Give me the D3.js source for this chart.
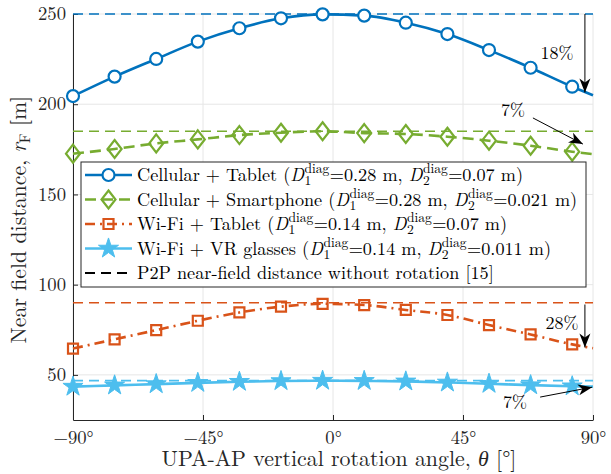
<!DOCTYPE html>
<html>
<head>
<meta charset="utf-8">
<script src="https://cdn.jsdelivr.net/npm/d3@7"></script>
<style>
  body { margin: 0; background: #fff; }
  text { white-space: pre; }
</style>
</head>
<body>
<svg id="svg" width="611" height="474"></svg>
<script>
const WIDTH = 611;
const HEIGHT = 474;
const MARGIN = { left: 73, right: 18, top: 14, bottom: 54 };
const FONT = "'LM Roman 10', 'Latin Modern Roman', 'Liberation Serif', serif";

// Data
const angles = [-90, -75.6, -61.2, -46.8, -32.4, -18, -3.6, 10.8, 25.2, 39.6, 54, 68.4, 82.8, 90];
const cellularTablet = [204.5, 215.3, 225.1, 234.7, 242.1, 247.6, 249.8, 249.1, 245.2, 238.9, 230.0, 220.2, 209.7, 205.0];
const cellularPhone = [172.6, 175.2, 178.3, 180.5, 182.9, 184.2, 185.0, 184.0, 183.5, 182.0, 179.8, 177.0, 173.7, 172.3];
const wifiTablet = [64.6, 69.7, 74.8, 80.0, 84.6, 87.8, 89.4, 88.7, 86.0, 83.2, 77.6, 72.4, 66.9, 64.8];
const wifiVR = [43.5, 44.2, 44.9, 45.6, 46.2, 46.6, 46.8, 46.7, 46.4, 45.8, 45.1, 44.3, 43.7, 43.5];
const p2pRef = [250, 185, 90, 46.8];
const xTicks = [-90, -45, 0, 45, 90];
const yTicks = [50, 100, 150, 200, 250];

const COLORS = ["#0072BD", "#77AC30", "#D95319", "#4DBEEE"];

const series = [
  { values: cellularTablet, color: COLORS[0], dash: null, marker: "circle",
    label: ["Cellular + Tablet (", { d: "1" }, "=0.28 m, ", { d: "2" }, "=0.07 m)"] },
  { values: cellularPhone, color: COLORS[1], dash: "11,6", marker: "diamond",
    label: ["Cellular + Smartphone (", { d: "1" }, "=0.28 m, ", { d: "2" }, "=0.021 m)"] },
  { values: wifiTablet, color: COLORS[2], dash: "10,5,2,5", marker: "square",
    label: ["Wi-Fi + Tablet (", { d: "1" }, "=0.14 m, ", { d: "2" }, "=0.07 m)"] },
  { values: wifiVR, color: COLORS[3], dash: null, marker: "star",
    label: ["Wi-Fi + VR glasses (", { d: "1" }, "=0.14 m, ", { d: "2" }, "=0.011 m)"] },
];
const refLabel = ["P2P near-field distance without rotation [15]"];

// Annotations in data coordinates: [from, to], text position
const annotations = [
  { from: [87.2, 250], to: [87.2, 206.5], text: "18%", at: [77.5, 227] },
  { from: [69.2, 192.4], to: [86.5, 177.9], text: "7%", at: [62.3, 195.5] },
  { from: [87.2, 89], to: [87.2, 65.2], text: "28%", at: [79.3, 77.5] },
  { from: [71.7, 37.7], to: [89.7, 43.2], text: "7%", at: [63, 34] },
];

const svg = d3.select("#svg");
const x = d3.scaleLinear().domain([-90, 90]).range([MARGIN.left, WIDTH - MARGIN.right]);
const y = d3.scaleLinear().domain([25, 250]).range([HEIGHT - MARGIN.bottom, MARGIN.top]);

// text measuring helpers
const probe = svg.append("text").attr("font-family", FONT).attr("xml:space", "preserve");
function measure(txt, size, style) {
  probe.attr("font-size", size).attr("font-style", style || "normal").text(txt);
  return probe.node().getComputedTextLength();
}
function fitSize(txt, width) {
  return 20 * width / measure(txt, 20);
}
function fitRich(sel, width) {
  sel.attr("font-size", 20);
  sel.attr("font-size", 20 * width / sel.node().getComputedTextLength());
}

function markerPath(type) {
  if (type === "circle") return d3.symbol().type(d3.symbolCircle).size(Math.PI * 36)();
  if (type === "star") return d3.symbol().type(d3.symbolStar).size(125)();
  if (type === "diamond") return "M0,-9L7,0L0,9L-7,0Z";
  return "M-5,-5H5V5H-5Z";
}

function drawMarker(g, type, color, cx, cy) {
  g.append("path")
    .attr("d", markerPath(type))
    .attr("transform", `translate(${cx},${cy})`)
    .attr("fill", type === "star" ? color : type === "circle" ? "#fff" : "none")
    .attr("stroke", color)
    .attr("stroke-width", type === "star" ? 1 : 2.2);
}

// Grid
const grid = svg.append("g");
grid.selectAll("line.gx").data(xTicks).enter().append("line")
  .attr("x1", (d) => x(d)).attr("x2", (d) => x(d))
  .attr("y1", y(25)).attr("y2", y(250))
  .attr("stroke", "#e6e6e6").attr("stroke-width", 1);
grid.selectAll("line.gy").data(yTicks).enter().append("line")
  .attr("x1", x(-90)).attr("x2", x(90))
  .attr("y1", (d) => y(d)).attr("y2", (d) => y(d))
  .attr("stroke", "#e6e6e6").attr("stroke-width", 1);

// Axes (ticks inside)
const TICK_SIZE = fitSize("250", 28);
const xAxis = svg.append("g")
  .attr("transform", `translate(0,${y(25)})`)
  .call(d3.axisBottom(x).tickValues(xTicks).tickSizeInner(-5).tickSizeOuter(0)
    .tickFormat((d) => (d < 0 ? "\u2212" + Math.abs(d) : d) + "\u00b0"));
const yAxis = svg.append("g")
  .attr("transform", `translate(${x(-90)},0)`)
  .call(d3.axisLeft(y).tickValues(yTicks).tickSizeInner(-5).tickSizeOuter(0));
[xAxis, yAxis].forEach((a) => {
  a.attr("font-family", FONT);
  a.select(".domain").attr("stroke", "#262626").attr("stroke-width", 1);
  a.selectAll(".tick line").attr("stroke", "#262626");
  a.selectAll(".tick text").attr("fill", "#262626").attr("font-size", TICK_SIZE);
});
xAxis.selectAll(".tick text").attr("y", 24).attr("dy", 0);
yAxis.selectAll(".tick text").attr("x", -7).attr("dy", "0.3em");

// Reference dashed lines
svg.append("g").selectAll("line").data(p2pRef).enter().append("line")
  .attr("x1", x(-90)).attr("x2", x(90))
  .attr("y1", (d) => y(d)).attr("y2", (d) => y(d))
  .attr("stroke", (d, i) => COLORS[i]).attr("stroke-width", 1.6)
  .attr("stroke-dasharray", "10,6");

// Series
const line = d3.line().curve(d3.curveMonotoneX).x((d) => x(d[0])).y((d) => y(d[1]));
series.forEach((s) => {
  const pts = angles.map((a, i) => [a, s.values[i]]);
  svg.append("path")
    .attr("d", line(pts))
    .attr("fill", "none")
    .attr("stroke", s.color)
    .attr("stroke-width", 2.6)
    .attr("stroke-dasharray", s.dash);
  const mg = svg.append("g");
  pts.slice(0, -1).forEach((p) => drawMarker(mg, s.marker, s.color, x(p[0]), y(p[1])));
});

// Arrow heads
svg.append("defs").append("marker")
  .attr("id", "head")
  .attr("viewBox", "-14 -6 16 12")
  .attr("markerWidth", 16).attr("markerHeight", 12)
  .attr("markerUnits", "userSpaceOnUse")
  .attr("refX", 0).attr("refY", 0)
  .attr("orient", "auto")
  .append("path")
  .attr("d", "M0,0L-14,-5.5L-10,0L-14,5.5Z")
  .attr("fill", "#000");

const ANN_SIZE = fitSize("18%", 33);
const ann = svg.append("g");
annotations.forEach((a) => {
  ann.append("line")
    .attr("x1", x(a.from[0])).attr("y1", y(a.from[1]))
    .attr("x2", x(a.to[0])).attr("y2", y(a.to[1]))
    .attr("stroke", "#000").attr("stroke-width", 1)
    .attr("marker-end", "url(#head)");
  ann.append("text")
    .attr("x", x(a.at[0])).attr("y", y(a.at[1]))
    .attr("text-anchor", "middle").attr("dominant-baseline", "middle")
    .attr("font-family", FONT).attr("font-size", ANN_SIZE).text(a.text);
});

// Legend
const LEG = { x: 81, y: 162, w: 505, h: 125, row: 24.5, first: 175, textX: 137 };
const BASE = fitSize(refLabel[0], 357);

function labelWidth(segs, base, script) {
  let w = 0;
  segs.forEach((s) => {
    if (typeof s === "string") w += measure(s, base);
    else w += measure("D", base, "italic") + 1 + Math.max(measure("diag", script), measure(s.d, script));
  });
  return w;
}
// pick the script size that gives the first row its width in the picture
let SCRIPT = 12;
for (let s = 10; s <= 17; s += 0.1) {
  if (Math.abs(labelWidth(series[0].label, BASE, s) - 386) < Math.abs(labelWidth(series[0].label, BASE, SCRIPT) - 386)) SCRIPT = s;
}

const legend = svg.append("g");
legend.append("rect")
  .attr("x", LEG.x).attr("y", LEG.y).attr("width", LEG.w).attr("height", LEG.h)
  .attr("fill", "#fff").attr("stroke", "#262626").attr("stroke-width", 1);

// one <text> per label; D^diag_k drawn as stacked tspans
function writeLabel(g, segs, x0, yb) {
  const t = g.append("text").attr("y", yb).attr("font-family", FONT)
    .attr("xml:space", "preserve").attr("font-size", BASE).attr("fill", "#000");
  let cx = x0;
  segs.forEach((s) => {
    if (typeof s === "string") {
      t.append("tspan").attr("x", cx).attr("y", yb).text(s);
      cx += measure(s, BASE);
    } else {
      t.append("tspan").attr("x", cx).attr("y", yb).attr("font-style", "italic").text("D");
      cx += measure("D", BASE, "italic") + 0.5;
      t.append("tspan").attr("x", cx).attr("y", yb - 0.42 * BASE).attr("font-size", SCRIPT).text("diag");
      t.append("tspan").attr("x", cx).attr("y", yb + 0.22 * BASE).attr("font-size", SCRIPT).text(s.d);
      cx += Math.max(measure("diag", SCRIPT), measure(s.d, SCRIPT)) + 0.5;
    }
  });
}

const legendItems = series.concat([{ color: "#000", dash: "10,6", marker: null, label: refLabel }]);
legendItems.forEach((s, i) => {
  const cy = LEG.first + i * LEG.row;
  const g = legend.append("g");
  g.append("line")
    .attr("x1", 85).attr("x2", 132).attr("y1", cy).attr("y2", cy)
    .attr("stroke", s.color).attr("stroke-width", s.marker ? 2.6 : 1.8)
    .attr("stroke-dasharray", s.dash);
  if (s.marker) drawMarker(g, s.marker, s.color, 108.5, cy);
  writeLabel(g, s.label, LEG.textX, cy + 0.33 * BASE);
});

// Axis labels
svg.append("text")
  .attr("x", x(0) + 6).attr("y", 466)
  .attr("text-anchor", "middle").attr("font-family", FONT).attr("fill", "#262626")
  .call((t) => {
    t.append("tspan").text("UPA-AP vertical rotation angle, ");
    t.append("tspan").attr("font-style", "italic").text("\u03b8");
    t.append("tspan").text(" [\u00b0]");
  })
  .call((t) => fitRich(t, 355));

svg.append("text")
  .attr("transform", `translate(26,${y(136)}) rotate(-90)`)
  .attr("text-anchor", "middle").attr("font-family", FONT).attr("fill", "#262626")
  .call((t) => {
    t.append("tspan").text("Near field distance, ");
    t.append("tspan").attr("font-style", "italic").text("r");
    t.append("tspan").attr("font-size", "0.7em").attr("dy", "0.28em").text("F");
    t.append("tspan").attr("dy", "-0.2em").text(" [m]");
  })
  .call((t) => fitRich(t, 248));

probe.remove();
</script>
</body>
</html>
